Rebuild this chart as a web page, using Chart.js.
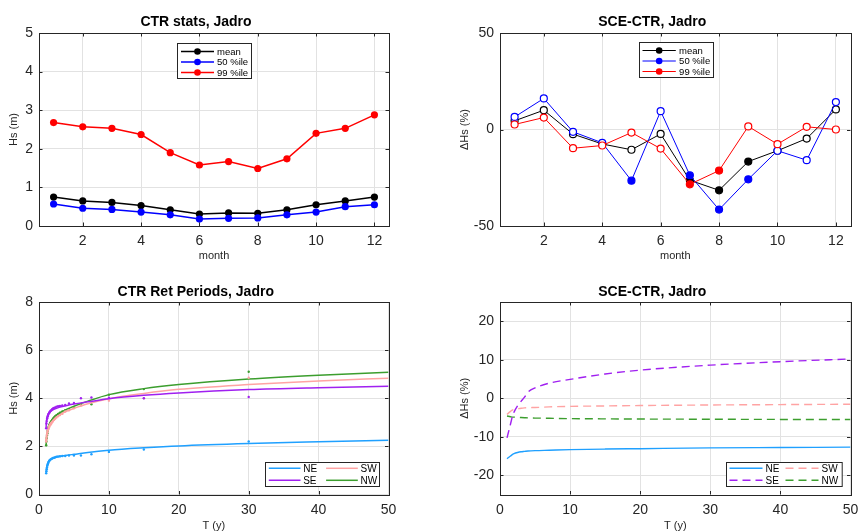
<!DOCTYPE html>
<html>
<head>
<meta charset="utf-8">
<script src="https://cdn.jsdelivr.net/npm/chart.js@4.4.1/dist/chart.umd.min.js"></script>
<style>
html, body { margin: 0; padding: 0; background: #fff; overflow: hidden; width: 860px; height: 531px; }
canvas { position: absolute; }
</style>
</head>
<body>
<canvas id="statsChart" width="430" height="265" style="left:0;top:0"></canvas>
<canvas id="diffChart" width="430" height="265" style="left:430px;top:0"></canvas>
<canvas id="retChart" width="430" height="270" style="left:0;top:265px"></canvas>
<canvas id="retDiffChart" width="430" height="270" style="left:430px;top:265px"></canvas>
<script>
// monthly stats (top row)
const months = [1, 2, 3, 4, 5, 6, 7, 8, 9, 10, 11, 12];
const monthTicks = [2, 4, 6, 8, 10, 12];
const ctrMean = [0.75, 0.65, 0.61, 0.53, 0.42, 0.31, 0.34, 0.33, 0.42, 0.55, 0.65, 0.75];
const ctrP50 = [0.57, 0.46, 0.43, 0.36, 0.29, 0.18, 0.20, 0.21, 0.29, 0.36, 0.50, 0.55];
const ctrP99 = [2.68, 2.57, 2.53, 2.37, 1.90, 1.58, 1.67, 1.49, 1.74, 2.40, 2.53, 2.88];
const hsTicks = [0, 1, 2, 3, 4, 5];

const dMean = [4.5, 10.0, -2.4, -7.5, -10.5, -2.3, -26.3, -31.5, -16.6, -11.0, -4.7, 10.4];
const dP50 = [6.5, 16.1, -1.2, -6.9, -26.5, 9.5, -23.7, -41.5, -25.8, -11.0, -15.9, 14.2];
const dP99 = [2.6, 6.2, -9.7, -8.3, -1.6, -9.9, -28.4, -21.3, 1.6, -7.6, 1.4, 0.0];
// filled marker = significant change
const sigMean = [0, 0, 0, 0, 0, 0, 1, 1, 1, 0, 0, 0];
const sigP50 = [0, 0, 0, 0, 1, 0, 1, 1, 1, 0, 0, 0];
const sigP99 = [0, 0, 0, 0, 0, 0, 1, 1, 0, 0, 0, 0];
const dPctTicks = [-50, 0, 50];

// return periods (bottom left)
const fitT = [1.01, 1.05, 1.1, 1.2, 1.3, 1.5, 1.75, 2, 2.5, 3, 4, 5, 7, 10, 15, 20, 30, 40, 50];
const fitNE = [0.85, 1.05, 1.15, 1.25, 1.32, 1.40, 1.46, 1.50, 1.55, 1.58, 1.63, 1.67, 1.75, 1.84, 1.94, 2.02, 2.12, 2.19, 2.25];
const fitSE = [2.75, 3.00, 3.12, 3.25, 3.33, 3.42, 3.48, 3.52, 3.58, 3.63, 3.70, 3.76, 3.85, 3.98, 4.12, 4.22, 4.36, 4.44, 4.50];
const fitSW = [2.20, 2.35, 2.48, 2.62, 2.72, 2.88, 3.00, 3.08, 3.22, 3.32, 3.47, 3.58, 3.77, 3.98, 4.20, 4.37, 4.57, 4.72, 4.83];
const fitNW = [2.00, 2.25, 2.40, 2.60, 2.75, 2.92, 3.05, 3.15, 3.30, 3.40, 3.55, 3.67, 3.88, 4.15, 4.40, 4.57, 4.80, 4.96, 5.08];
const obsT = [30, 15, 10, 7.5, 6, 5, 4.29, 3.75, 3.33, 3, 2.73, 2.5, 2.31, 2.14, 2, 1.88, 1.76, 1.67, 1.58, 1.5, 1.43, 1.36, 1.3, 1.25, 1.2, 1.15, 1.11, 1.07, 1.03];
const obsNE = [2.20, 1.87, 1.77, 1.67, 1.62, 1.62, 1.62, 1.60, 1.60, 1.59, 1.58, 1.57, 1.55, 1.53, 1.52, 1.50, 1.48, 1.46, 1.44, 1.42, 1.38, 1.35, 1.30, 1.25, 1.20, 1.12, 1.05, 0.97, 0.88];
const obsSE = [4.05, 4.00, 4.02, 4.03, 4.00, 3.80, 3.78, 3.72, 3.70, 3.68, 3.67, 3.65, 3.62, 3.60, 3.58, 3.55, 3.50, 3.48, 3.45, 3.42, 3.38, 3.35, 3.30, 3.25, 3.18, 3.15, 3.05, 2.95, 2.75];
const obsSW = [4.85, 4.00, 3.90, 3.85, 3.70, 3.58, 3.50, 3.45, 3.35, 3.30, 3.25, 3.20, 3.15, 3.10, 3.05, 3.00, 2.95, 2.92, 2.88, 2.85, 2.80, 2.75, 2.70, 2.65, 2.58, 2.50, 2.40, 2.30, 2.20];
const obsNW = [5.10, 4.38, 4.15, 3.75, 3.75, 3.60, 3.55, 3.50, 3.45, 3.40, 3.35, 3.30, 3.25, 3.20, 3.15, 3.10, 3.05, 3.00, 2.95, 2.90, 2.85, 2.80, 2.72, 2.65, 2.55, 2.45, 2.35, 2.20, 2.05];
const tTicks = [0, 10, 20, 30, 40, 50];
const retHsTicks = [0, 2, 4, 6, 8];

// return period change (bottom right)
const diffT = [1, 1.5, 1.8, 2, 2.5, 3, 3.5, 4, 5, 7, 10, 15, 20, 30, 40, 50];
const diffNE = [-15.7, -15.0, -14.6, -14.4, -14.1, -13.9, -13.8, -13.7, -13.6, -13.5, -13.35, -13.2, -13.1, -12.9, -12.8, -12.7];
const diffSE = [-10.3, -6.7, -4.5, -3.6, -2.0, -0.8, 0.3, 1.6, 2.7, 3.9, 4.9, 6.3, 7.3, 8.6, 9.5, 10.2];
const diffSW = [-4.2, -3.4, -3.0, -2.9, -2.75, -2.6, -2.5, -2.45, -2.4, -2.25, -2.1, -2.0, -1.9, -1.75, -1.65, -1.55];
const diffNW = [-4.6, -4.8, -4.9, -4.9, -4.95, -5.0, -5.05, -5.1, -5.15, -5.2, -5.3, -5.35, -5.4, -5.45, -5.5, -5.5];
const retPctTicks = [-20, -10, 0, 10, 20];

const FONT = '"Liberation Sans", Arial, Helvetica, sans-serif';
const AXIS = '#262626';
const C_NE = '#1fa0ff', C_SE = '#a020f0', C_SW = '#ffa3a3', C_NW = '#3c9e2e';

const pts = (xs, ys) => xs.map((x, i) => ({ x: x, y: ys[i] }));

function scale(axis, min, max, tickVals, title, size, titlePad) {
    return {
        type: 'linear', min: min, max: max,
        afterBuildTicks: s => { s.ticks = tickVals.map(v => ({ value: v })); },
        afterFit: s => {
            // fixed axis size, and no extra room for edge labels
            if (axis === 'x') { s.height = size; s.paddingLeft = 0; s.paddingRight = 0; }
            else { s.width = size; s.paddingTop = 0; s.paddingBottom = 0; }
        },
        grid: { color: '#e2e2e2', drawTicks: false },
        border: { display: false },
        ticks: { color: AXIS, font: { family: FONT, size: 14 }, padding: axis === 'x' ? 7 : 6, maxRotation: 0, autoSkip: false },
        title: { display: true, text: title, color: AXIS, font: { family: FONT, size: 11 }, padding: titlePad }
    };
}

// box around the axes, inward ticks, and a legend placed inside the axes
const matlabLook = {
    id: 'matlabLook',
    afterDraw(chart, args, L) {
        const ctx = chart.ctx, a = chart.chartArea;
        const xs = chart.scales.x, ys = chart.scales.y;
        ctx.save();
        ctx.strokeStyle = AXIS;
        ctx.lineWidth = 1;
        ctx.beginPath();
        xs.ticks.forEach(t => {
            const p = Math.round(xs.getPixelForValue(t.value)) + 0.5;
            ctx.moveTo(p, a.bottom); ctx.lineTo(p, a.bottom - 3.5);
            ctx.moveTo(p, a.top); ctx.lineTo(p, a.top + 3.5);
        });
        ys.ticks.forEach(t => {
            const p = Math.round(ys.getPixelForValue(t.value)) + 0.5;
            ctx.moveTo(a.left, p); ctx.lineTo(a.left + 3.5, p);
            ctx.moveTo(a.right, p); ctx.lineTo(a.right - 3.5, p);
        });
        ctx.stroke();
        ctx.strokeRect(Math.round(a.left) + 0.5, Math.round(a.top) + 0.5, Math.round(a.right - a.left), Math.round(a.bottom - a.top));

        if (L && L.w) {
            const x0 = Math.round(a.left + L.x) + 0.5, y0 = Math.round(a.top + L.y) + 0.5;
            ctx.fillStyle = '#fff';
            ctx.fillRect(x0, y0, L.w, L.h);
            ctx.strokeStyle = AXIS;
            ctx.strokeRect(x0, y0, L.w, L.h);
            const items = chart.data.datasets.filter(d => d.inLegend);
            ctx.font = L.font + 'px ' + FONT;
            ctx.textBaseline = 'middle';
            ctx.textAlign = 'left';
            items.forEach((d, i) => {
                const col = Math.floor(i / L.rows), row = i % L.rows;
                const cx = x0 + col * L.colW, cy = y0 + L.firstRow + row * L.rowH;
                ctx.strokeStyle = d.borderColor;
                ctx.lineWidth = d.borderWidth;
                ctx.setLineDash(d.borderDash || []);
                ctx.beginPath();
                ctx.moveTo(cx + L.line0, cy); ctx.lineTo(cx + L.line1, cy);
                ctx.stroke();
                ctx.setLineDash([]);
                if (L.marker) {
                    ctx.fillStyle = d.borderColor;
                    ctx.beginPath();
                    ctx.arc(cx + (L.line0 + L.line1) / 2, cy, 3.3, 0, Math.PI * 2);
                    ctx.fill();
                }
                ctx.fillStyle = '#000';
                ctx.fillText(d.label, cx + L.text, cy + 0.5);
            });
        }
        ctx.restore();
    }
};

function titleOpts(text, top, bottom) {
    return { display: true, text: text, color: '#000', font: { family: FONT, size: 14, weight: 'bold' }, padding: { top: top, bottom: bottom } };
}

function baseOptions(title, pad, xScale, yScale, legend) {
    return {
        responsive: false, animation: false, events: [],
        layout: { padding: pad },
        plugins: { legend: { display: false }, tooltip: { enabled: false }, title: title, matlabLook: legend },
        scales: { x: xScale, y: yScale }
    };
}

// CTR stats
new Chart(document.getElementById('statsChart'), {
    type: 'scatter',
    plugins: [matlabLook],
    data: {
        datasets: [
            { label: 'mean', data: pts(months, ctrMean), color: '#000' },
            { label: '50 %ile', data: pts(months, ctrP50), color: '#0000ff' },
            { label: '99 %ile', data: pts(months, ctrP99), color: '#ff0000' }
        ].map((d, i) => ({
            label: d.label, data: d.data, showLine: true, inLegend: true, order: 3 - i,
            borderColor: d.color, backgroundColor: d.color, borderWidth: 1.5,
            pointRadius: 3.6, pointBackgroundColor: d.color, pointBorderWidth: 0
        }))
    },
    options: baseOptions(titleOpts('CTR stats, Jadro', 13.9, 2.3),
        { left: 3, right: 41, top: 0, bottom: 0 },
        scale('x', 0.5, 12.5, monthTicks, 'month', 39, { top: 0, bottom: 2.4 }),
        scale('y', 0, 5, hsTicks, 'Hs (m)', 36, { top: 4, bottom: 4 }),
        { x: 137.7, y: 9.5, w: 74, h: 35, rows: 3, colW: 0, firstRow: 8, rowH: 10.5, line0: 3.5, line1: 36.5, text: 39.5, marker: true, font: 9.5 })
});

// SCE-CTR monthly change
new Chart(document.getElementById('diffChart'), {
    type: 'scatter',
    plugins: [matlabLook],
    data: {
        datasets: [
            { label: 'mean', data: pts(months, dMean), color: '#000', sig: sigMean },
            { label: '50 %ile', data: pts(months, dP50), color: '#0000ff', sig: sigP50 },
            { label: '99 %ile', data: pts(months, dP99), color: '#ff0000', sig: sigP99 }
        ].map((d, i) => ({
            label: d.label, data: d.data, showLine: true, inLegend: true, order: 3 - i,
            borderColor: d.color, backgroundColor: d.color, borderWidth: 1,
            pointRadius: 3.5, pointBorderWidth: 1.2, pointBorderColor: d.color,
            pointBackgroundColor: d.sig.map(s => s ? d.color : '#fff')
        }))
    },
    options: baseOptions(titleOpts('SCE-CTR, Jadro', 13.9, 2.3),
        { left: 24, right: 9.5, top: 0, bottom: 0 },
        scale('x', 0.5, 12.5, monthTicks, 'month', 39, { top: 0, bottom: 2.4 }),
        scale('y', -50, 50, dPctTicks, '\u0394Hs (%)', 46, { top: 4, bottom: 4 }),
        { x: 138.7, y: 9, w: 74, h: 35, rows: 3, colW: 0, firstRow: 8, rowH: 10.5, line0: 3, line1: 36.3, text: 39.6, marker: true, font: 9.5 })
});

// CTR return periods
const dirs = [
    { label: 'NE', color: C_NE, fit: fitNE, obs: obsNE },
    { label: 'SE', color: C_SE, fit: fitSE, obs: obsSE },
    { label: 'SW', color: C_SW, fit: fitSW, obs: obsSW },
    { label: 'NW', color: C_NW, fit: fitNW, obs: obsNW }
];
const retSets = [];
dirs.forEach(d => {
    retSets.push({ label: d.label + ' obs', data: pts(obsT, d.obs), showLine: false,
        pointRadius: 1.2, pointBorderWidth: 0, pointBackgroundColor: d.color, backgroundColor: d.color });
    retSets.push({ label: d.label, data: pts(fitT, d.fit), showLine: true, inLegend: true,
        borderColor: d.color, borderWidth: 1.5, pointRadius: 0, cubicInterpolationMode: 'monotone' });
});
new Chart(document.getElementById('retChart'), {
    type: 'scatter',
    plugins: [matlabLook],
    data: { datasets: retSets },
    options: baseOptions(titleOpts('CTR Ret Periods, Jadro', 18.3, 1.9),
        { left: 3, right: 41.5, top: 0, bottom: 0 },
        scale('x', 0, 50, tTicks, 'T (y)', 40.5, { top: 0, bottom: 2.4 }),
        scale('y', 0, 8, retHsTicks, 'Hs (m)', 36, { top: 4, bottom: 4 }),
        { x: 226, y: 159.7, w: 114, h: 24, rows: 2, colW: 57.3, firstRow: 5.8, rowH: 12, line0: 3.3, line1: 35, text: 37.7, marker: false, font: 10 })
});

// SCE-CTR return period change
const diffDirs = [
    { label: 'NE', color: C_NE, vals: diffNE, dash: [] },
    { label: 'SE', color: C_SE, vals: diffSE, dash: [8, 5] },
    { label: 'SW', color: C_SW, vals: diffSW, dash: [8, 5] },
    { label: 'NW', color: C_NW, vals: diffNW, dash: [8, 5] }
];
new Chart(document.getElementById('retDiffChart'), {
    type: 'scatter',
    plugins: [matlabLook],
    data: {
        datasets: diffDirs.map(d => ({
            label: d.label, data: pts(diffT, d.vals), showLine: true, inLegend: true,
            borderColor: d.color, borderWidth: 1.4, borderDash: d.dash, pointRadius: 0,
            cubicInterpolationMode: 'monotone'
        }))
    },
    options: baseOptions(titleOpts('SCE-CTR, Jadro', 18.3, 1.9),
        { left: 24, right: 9.5, top: 0, bottom: 0 },
        scale('x', 0, 50, tTicks, 'T (y)', 40.5, { top: 0, bottom: 2.4 }),
        scale('y', -25, 25, retPctTicks, '\u0394Hs (%)', 46, { top: 4, bottom: 4 }),
        { x: 226, y: 159.7, w: 115.7, h: 24, rows: 2, colW: 56, firstRow: 5.8, rowH: 12, line0: 3, line1: 36, text: 39, marker: false, font: 10 })
});
</script>
</body>
</html>
